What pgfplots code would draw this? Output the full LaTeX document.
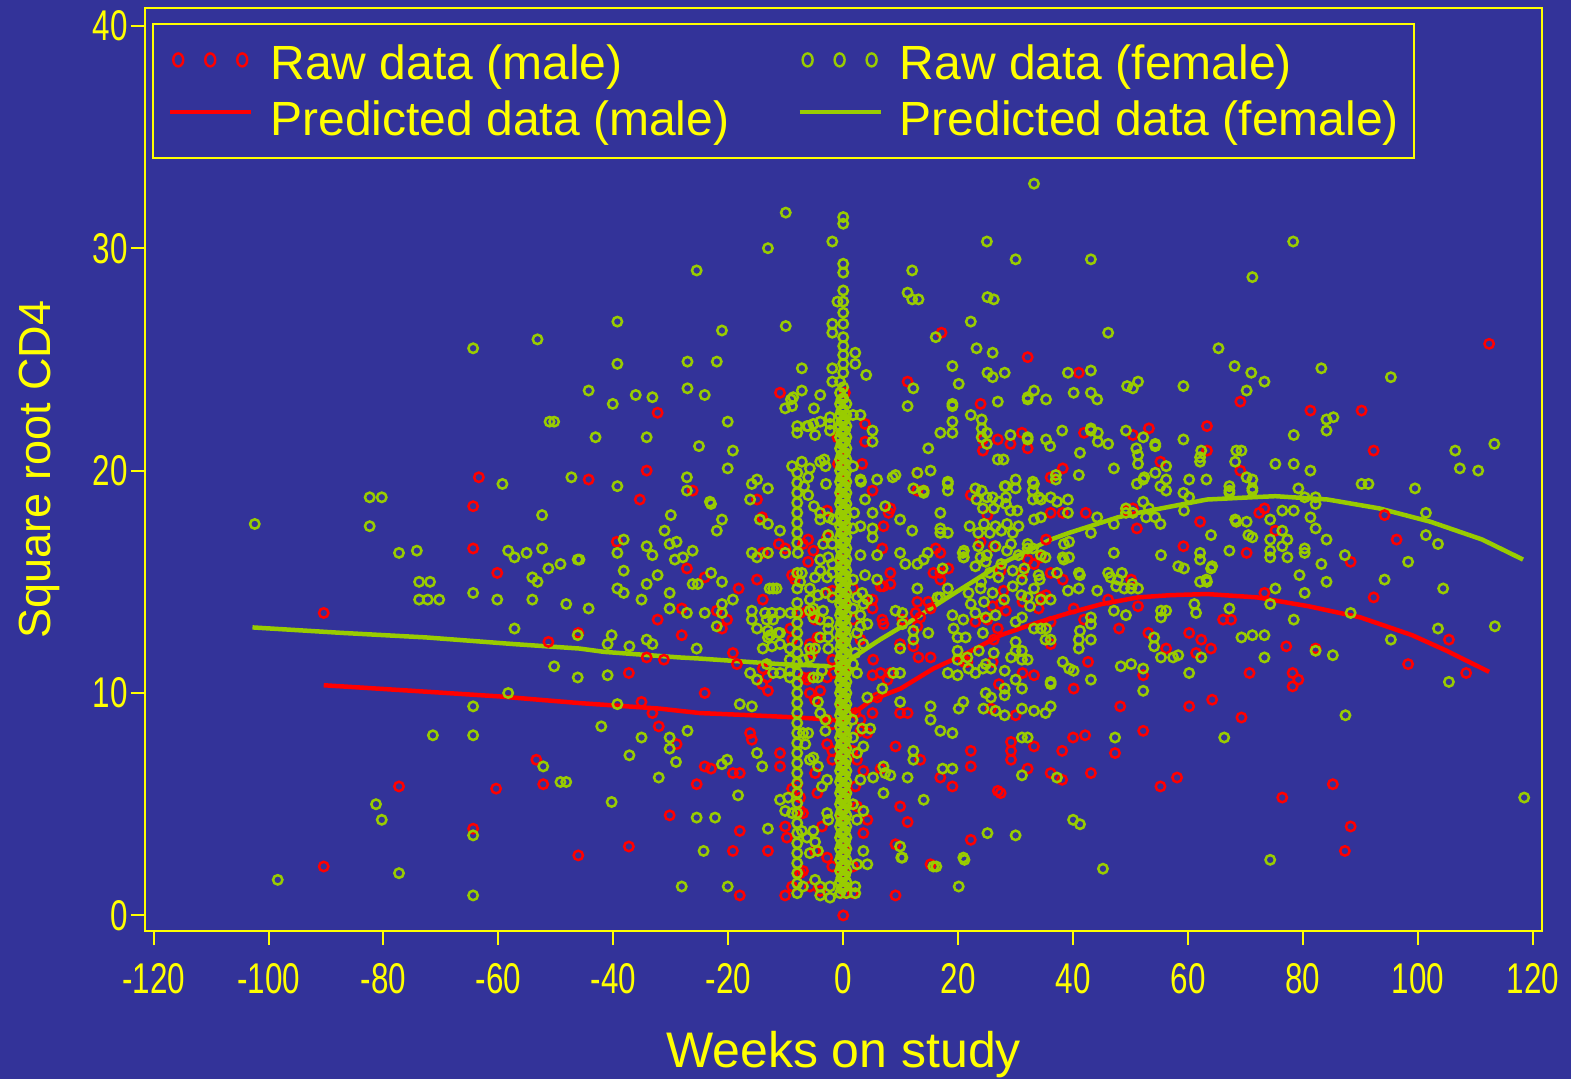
\documentclass[border=0pt]{standalone}
\usepackage{fontspec}
\setmainfont{Liberation Sans}
\newfontfamily\narrowfont{Liberation Sans}[FakeStretch=0.73]
\usepackage{pgfplots}
\pgfplotsset{compat=1.18}
\usetikzlibrary{backgrounds}
\definecolor{bgblue}{RGB}{51,51,153}
\definecolor{ylw}{RGB}{255,255,0}
\definecolor{grn}{RGB}{153,204,0}
\definecolor{rd}{RGB}{255,0,0}
\pgfplotsset{raw/.style={only marks, mark=o, mark size=4.7pt, mark options={line width=2.5pt}}}

\begin{document}
\begin{tikzpicture}
\begin{axis}[
  name=ax,
  scale only axis,
  width=1397pt, height=923pt,
  xmin=-121.5, xmax=121.6, ymin=-0.7, ymax=40.8,
  axis line style={ylw, line width=2pt},
  xtick={-120,-100,...,120},
  ytick={0,10,20,30,40},
  tick pos=left,
  tick align=outside,
  major tick length=14pt,
  tick style={ylw, line width=2pt},
  ticklabel style={font=\narrowfont\fontsize{43}{43}\selectfont, text=ylw},
  xticklabel style={yshift=-15pt},
  /pgf/number format/assume math mode=true,
  xlabel={Weeks on study},
  ylabel={Square root CD4},
  xlabel style={font=\fontsize{50}{50}\selectfont, text=ylw, at={(axis description cs:0.5,-0.1484)}, anchor=base},
  ylabel style={font=\fontsize{45}{45}\selectfont, text=ylw, at={(axis description cs:-0.068,0.5)}, anchor=base},
  legend columns=2,
  legend cell align=left,
  legend style={at={(axis description cs:0.005,0.984)}, anchor=north west,
    draw=ylw, line width=2pt, fill=none, text=ylw,
    font=\fontsize{48}{55}\selectfont,
    inner xsep=15pt, inner ysep=21pt,
    nodes={inner sep=0pt},
    row sep=20pt,
    /tikz/every odd column/.append style={column sep=17pt},
    /tikz/every even column/.append style={column sep=68pt}},
]

% raw data, male
\addplot[raw, rd, legend image code/.code={\foreach \xx in {8,40,72}{\draw[rd, line width=2.4pt] (\xx pt,3pt) ellipse [x radius=5pt, y radius=6.5pt];}}] coordinates {
(-90.4,13.6) (-90.4,2.2) (-77.3,5.8) (-64.4,18.4) (-64.4,16.5) (-63.4,19.7) (-60.2,15.4) (-60.4,5.7) (-64.4,3.9)
(-53.4,7.0) (-52.2,5.9) (-51.3,12.3) (-46.1,12.7) (-46.1,2.7) (-44.3,19.6)
(-39.4,16.8) (-35.4,18.7) (-37.3,3.1) (-37.3,10.9) (-35.1,9.6) (-32.3,22.6) (-32.3,13.3) (-34.2,20.0) (-33.2,9.1)
(-32.1,8.5) (-34.2,11.6) (-31.2,11.5) (-29.0,7.7) (-28.1,12.6) (-26.2,19.1) (-25.5,5.9) (-27.2,15.6) (-24.1,15.2)
(-28.1,13.8) (-30.2,4.5) (-23.0,6.6)
(-22.0,13.7) (-20.2,13.3) (-21.1,12.9) (-19.2,11.8) (-18.2,14.7) (-15.0,15.1) (-14.0,16.3) (-13.1,16.3) (-11.2,16.7)
(-10.1,16.5) (-15.0,18.7) (-14.1,17.9) (-11.0,23.5)
(-8.9,15.3) (-8.4,15.1) (-7.0,16.7) (-6.1,16.9) (-5.2,16.4) (-6.1,15.9) (-2.8,18.2) (-2.8,17.0) (-1.0,21.5) (-0.9,20.3)
(-8.9,12.4) (-9.2,12.9) (-6.1,13.7) (-5.2,13.6) (-4.0,13.3) (-7.5,13.6) (-2.8,14.5) (-1.9,14.6) (-4.9,13.3) (-4.5,12.5)
(-5.8,12.2) (-5.4,11.8) (-5.8,10.7) (-2.8,10.7) (-7.0,10.7) (-6.3,10.6) (-1.7,10.9) (-1.9,11.5) (-5.8,10.0) (-4.9,9.7)
(-4.0,10.1) (-2.8,8.8) (-1.9,8.6) (-2.8,7.7) (-1.9,7.4) (-1.9,7.0) (-4.5,5.5) (-4.9,6.4) (-3.7,4.0) (-4.9,2.9)
(-8.9,5.7) (-8.0,5.9) (-7.5,5.3) (-7.5,4.7) (-7.0,4.6) (-7.5,1.9) (-7.0,2.0) (-5.8,1.3) (-4.0,1.1) (-2.8,2.6) (-1.9,2.2)
(-10.1,0.9) (-8.9,1.3) (-10.1,4.0) (-9.8,3.5) (-13.1,2.9) (-18.0,3.8) (-19.2,2.9) (-18.0,0.9) (-11.0,7.3) (-11.0,6.7)
(-19.2,6.4) (-18.0,6.4) (-24.1,6.7) (-16.2,8.2) (-15.9,7.9) (-14.1,10.4) (-13.1,10.1) (-14.0,11.1) (-13.3,10.7)
(-18.5,11.3) (-24.1,10.0) (-14.0,14.2)
(0,0.0) (0.3,1.0) (-0.3,2.0) (0.3,3.0) (-0.3,4.5) (0.3,5.5) (-0.3,7.0) (0.3,8.0) (-0.3,9.5) (0.3,11.0) (-0.3,12.5)
(0.3,14.0) (-0.3,16.0) (0.3,17.5) (-0.3,18.8) (0.3,19.6) (-0.3,20.6) (0.3,23.5)
(1.7,2.2) (1.7,1.0) (4.2,4.3) (3.5,3.7) (2.4,4.9) (2.1,5.8) (1.6,7.4) (2.4,7.0) (3.5,6.5) (3.0,8.3) (4.2,8.2) (2.1,9.1)
(3.0,8.8) (5.9,9.8) (5.1,9.1) (9.1,7.6) (9.9,9.1) (11.2,9.1) (13.4,7.0) (6.5,6.6) (11.2,4.2) (9.9,4.9) (9.1,3.2)
(15.2,2.3) (9.1,0.9) (22.2,3.4) (16.9,6.2) (19.0,5.8) (26.9,5.6) (22.2,7.4) (22.2,6.7) (25.7,9.3)
(3.0,12.4) (5.2,11.5) (6.5,10.9) (7.7,10.6) (5.1,10.8) (10.3,13.3) (12.2,12.1) (9.9,12.2) (13.4,13.4) (15.2,13.8)
(16.9,15.4) (16.9,15.1) (18.3,15.6) (6.5,14.8) (5.1,14.2) (5.1,13.8) (8.2,15.4) (8.2,14.9)
(1.7,14.7) (1.7,13.3) (3.8,22.1) (3.8,21.3) (3.3,20.3) (6.8,16.5) (7.0,13.1) (8.2,18.3) (7.9,18.1) (7.0,17.5)
(12.9,19.9) (12.9,19.1) (14.0,19.1) (16.1,16.5) (16.9,16.3) (15.7,15.4) (12.9,14.1) (14.8,14.1) (12.6,13.6) (12.9,13.0)
(7.0,14.8) (6.8,13.3) (22.2,18.9) (23.9,23.0) (24.3,21.4) (24.3,20.9) (23.9,16.8) (26.9,21.4) (23.0,13.2) (25.1,13.3)
(26.9,12.9) (26.2,12.4) (13.1,11.6) (15.2,11.6) (21.6,11.4) (8.2,10.9) (5.1,19.1) (11.2,24.0) (17.1,26.2) (25.1,18.0)
(26.2,16.6) (27.4,15.5) (27.9,14.6) (27.4,14.0) (26.0,13.9) (28.3,13.7) (21.0,11.4) (26.0,11.4) (27.1,10.4)
(32.1,25.1) (41.0,24.4) (69.1,23.1) (41.9,21.7) (50.4,21.6) (53.2,21.9) (63.3,22.0) (63.3,20.9) (69.1,20.0)
(29.1,21.2) (31.1,21.7) (32.1,21.0) (38.2,20.1) (36.1,19.7) (36.1,18.1) (38.2,18.1) (42.2,18.1) (49.2,18.2) (50.4,18.3)
(51.1,17.4) (62.1,17.7) (68.4,17.7) (35.3,16.9) (32.1,16.0) (33.2,15.8) (34.4,16.1) (31.2,15.4) (36.1,15.4) (38.2,15.1)
(31.2,14.1) (34.4,14.3) (35.3,14.4) (34.0,13.8) (40.1,13.8) (46.1,14.2) (50.1,15.1) (59.2,16.6) (70.2,16.3) (51.3,13.9)
(41.9,13.3) (48.0,12.9) (53.1,12.7) (56.2,12.0) (60.2,12.7) (61.4,11.8) (62.3,12.4) (64.0,12.0) (66.1,13.3) (67.5,13.3)
(70.7,10.9) (42.6,11.4) (40.1,10.2) (52.2,10.8) (31.2,10.9) (33.2,10.8) (36.1,12.2) (36.1,13.2)
(112.4,25.7) (81.3,22.7) (90.2,22.7) (92.3,20.9) (55.2,20.4) (72.4,18.1) (73.3,18.3) (75.2,17.3) (94.2,18.0) (96.3,16.9)
(88.3,15.9) (77.1,12.1) (73.3,14.5) (92.3,14.3) (105.4,12.4) (98.3,11.3) (108.4,10.9) (82.2,12.0) (78.2,10.9) (79.2,10.6)
(78.2,10.3) (64.2,9.7) (60.2,9.4) (69.3,8.9) (48.2,9.4) (52.2,8.3) (30.0,9.0) (40.0,8.0) (42.1,8.1) (33.2,7.6) (29.2,7.8)
(29.2,7.4) (29.2,7.0) (38.1,7.4) (47.3,7.3) (32.1,6.6) (36.1,6.4) (38.1,6.1) (43.1,6.4) (58.1,6.2) (55.2,5.8) (85.2,5.9)
(76.4,5.3) (88.3,4.0) (87.3,2.9) (27.4,5.5)
};
\addlegendentry{Raw data (male)}

% raw data, female
\addplot[raw, grn, legend image code/.code={\foreach \xx in {8,40,72}{\draw[grn, line width=2.4pt] (\xx pt,3pt) ellipse [x radius=5pt, y radius=6.5pt];}}] coordinates {
(-102.4,17.6) (-98.4,1.6) (-82.4,18.8) (-80.3,18.8) (-82.4,17.5) (-81.3,5.0) (-80.3,4.3) (-77.3,16.3) (-77.3,1.9)
(-74.2,16.4) (-73.8,15.0) (-71.9,15.0) (-73.8,14.2) (-72.3,14.2) (-70.3,14.2) (-71.4,8.1) (-64.4,25.5) (-64.4,14.5)
(-64.4,9.4) (-64.4,8.1) (-64.4,3.6) (-64.4,0.9) (-59.3,19.4) (-58.3,16.4) (-57.2,16.1) (-55.1,16.3) (-52.4,16.5)
(-60.2,14.2) (-58.3,10.0) (-57.2,12.9) (-54.1,15.2) (-53.2,15.0) (-54.1,14.2) (-53.2,25.9) (-52.4,18.0) (-51.1,22.2)
(-50.3,22.2) (-50.3,11.2) (-52.2,6.7) (-49.2,6.0) (-48.2,6.0) (-49.2,15.8) (-46.2,16.0) (-51.3,15.6) (-47.3,19.7)
(-46.2,10.7) (-46.2,12.6) (-48.2,14.0) (-44.3,13.8) (-44.3,23.6) (-43.1,21.5) (-41.0,10.8) (-42.1,8.5) (-45.9,16.0)
(-39.3,26.7) (-39.3,24.8) (-40.1,23.0) (-39.3,19.3) (-39.3,16.3) (-38.2,16.9) (-38.2,15.5) (-39.3,14.7) (-38.2,14.5)
(-40.3,12.6) (-41.0,12.2) (-37.2,12.1) (-34.2,12.4) (-33.2,12.2) (-39.3,9.5) (-40.3,5.1) (-37.2,7.2) (-35.1,8.0)
(-36.1,23.4) (-33.2,23.3) (-34.2,21.5) (-34.2,16.6) (-33.2,16.2) (-32.3,15.3) (-34.2,14.9) (-35.1,14.2) (-30.2,14.5)
(-30.2,13.8) (-27.2,13.6) (-30.0,18.0) (-31.1,17.3) (-29.0,16.8) (-30.2,16.7) (-29.3,16.0) (-27.9,16.1) (-26.2,16.4)
(-26.2,14.9) (-25.3,14.9) (-23.0,15.4) (-21.1,15.0) (-27.2,19.7) (-27.2,19.1) (-27.1,24.9) (-27.1,23.7) (-25.5,29.0)
(-24.1,23.4) (-25.1,21.1) (-23.0,18.5) (-22.0,24.9) (-21.1,26.3) (-20.1,22.2) (-19.2,20.9) (-20.1,20.1) (-23.2,18.6)
(-21.1,17.8) (-22.0,17.3) (-30.2,8.0) (-30.2,7.5) (-32.1,6.2) (-29.1,6.9) (-27.1,8.3) (-25.5,12.0) (-25.5,4.4)
(-28.1,1.3) (-24.1,13.6) (-21.1,14.0) (-21.1,13.6) (-19.2,14.2) (-22.0,13.0) (-24.3,2.9) (-18.0,9.5)
(-15.9,19.4) (-15.0,19.6) (-13.1,19.2) (-16.2,18.7) (-14.5,17.8) (-11.0,17.3) (-13.1,17.6) (-15.9,16.3) (-15.0,16.1)
(-13.1,16.3) (-10.1,16.3) (-7.9,16.3) (-12.8,14.7) (-12.2,14.7) (-11.6,14.7) (-8.0,14.7) (-13.6,13.6) (-13.3,13.3)
(-12.4,13.6) (-12.2,13.3) (-11.0,13.6) (-11.3,12.7) (-9.2,13.6) (-8.0,13.6) (-12.7,12.6) (-11.0,12.2) (-13.3,11.3)
(-12.2,10.9) (-5.8,12.0) (-4.9,12.0) (-5.8,11.6) (-7.5,15.0) (-7.2,15.4) (-6.1,19.7) (-5.8,20.1) (-4.0,20.4) (-3.1,20.2)
(-7.2,20.4) (-8.9,20.2) (-4.9,21.6) (-5.2,22.1) (-6.1,22.0) (-4.0,22.2) (-2.3,22.4) (-2.3,22.1) (-2.3,21.8) (-8.9,22.9)
(-10.1,22.8) (-8.7,23.3) (-7.2,23.6) (-4.0,23.4) (-4.0,18.1) (-4.0,17.8) (-2.6,17.9) (-1.7,17.8) (-3.5,16.7) (-4.0,16.0)
(-4.0,15.5) (-5.8,14.7) (-5.8,14.2) (-5.8,13.7) (-4.4,14.4) (-2.6,13.2) (-2.6,12.9) (-2.6,12.5) (-2.6,12.0)
(-15.9,13.7) (-15.9,13.3) (-15.0,12.9) (-13.1,12.8) (-11.0,12.7) (-13.1,12.5) (-12.4,12.1) (-14.0,12.0) (-11.0,10.9)
(-16.2,10.9) (-15.0,10.6) (-15.9,9.4) (-15.0,7.3) (-14.1,6.7) (-21.1,6.8) (-20.2,7.0) (-18.3,5.4) (-22.3,4.4) (-20.1,1.3)
(-13.1,3.9) (-11.0,5.2) (-9.6,5.3) (-10.1,4.7) (-8.9,4.6) (-7.2,3.8) (-6.3,3.5) (-5.2,3.8) (-4.9,3.3) (-4.4,2.9) (-5.8,2.8)
(-4.9,1.6) (-4.0,1.3) (-2.3,1.3) (-2.3,0.8) (-4.4,6.7) (-3.7,5.8) (-2.8,6.1) (-2.8,4.6) (-2.6,4.3) (-7.0,8.2) (-6.1,8.2)
(-6.6,7.7) (-5.8,7.0) (-5.2,7.1) (-4.4,9.6) (-4.0,9.1) (-3.1,8.8) (-3.1,8.3) (-5.2,10.7) (-4.4,10.7) (-3.7,11.0) (-7.0,11.5)
(-4.0,12.5) (-5.2,13.8) (-4.0,13.3) (-5.2,13.4) (-3.5,13.7) (-3.1,14.5) (-1.9,14.3) (-4.9,15.2) (-2.8,15.2) (-1.9,15.4)
(-2.6,17.1) (-1.9,16.7) (-2.6,16.1) (-1.9,15.8) (-7.0,1.3) (-4.0,0.9)
(-10.0,31.6) (-13.1,30.0) (-1.9,30.3) (-1.0,27.6) (-10.0,26.5) (-1.9,26.6) (-1.9,26.2) (-7.2,24.6) (-1.9,24.6) (-9.1,23.2)
(-5.1,22.8) (-1.9,24.0) (-8.0,22.0) (-8.0,21.7) (-6.3,22.0) (-6.8,19.3) (-6.1,18.9) (-5.1,18.4) (-3.3,20.5) (-3.0,19.4)
(-8.0,1.0) (-8.0,1.45) (-8.0,1.9) (-8.0,2.35) (-8.0,2.8) (-8.0,3.25) (-8.0,3.7) (-8.0,4.15) (-8.0,4.6) (-8.0,5.05)
(-8.0,5.5) (-8.0,5.95) (-8.0,6.4) (-8.0,6.85) (-8.0,7.3) (-8.0,7.75) (-8.0,8.2) (-8.0,8.65) (-8.0,9.1) (-8.0,9.55)
(-8.0,10.0) (-8.0,10.45) (-8.0,10.9) (-8.0,11.35) (-8.0,11.8) (-8.0,12.25) (-8.0,12.7) (-8.0,13.15) (-8.0,14.05)
(-8.0,15.4) (-8.0,16.75) (-8.0,17.2) (-8.0,17.65) (-8.0,18.1) (-8.0,18.55) (-8.0,19.0) (-8.0,19.45) (-8.0,19.9)
(-9.3,10.7) (-9.3,11.0) (-9.3,11.5) (-9.3,12.0)
(-0.55,1.0) (-0.55,1.5) (-0.55,2.0) (-0.55,2.5) (-0.55,3.0) (-0.55,3.5) (-0.55,4.0) (-0.55,4.5) (-0.55,5.0) (-0.55,5.5)
(-0.55,6.0) (-0.55,6.5) (-0.55,7.0) (-0.55,7.5) (-0.55,8.0) (-0.55,8.5) (-0.55,9.0) (-0.55,9.5) (-0.55,10.0) (-0.55,10.5)
(-0.55,11.0) (-0.55,11.5) (-0.55,12.0) (-0.55,12.5) (-0.55,13.0) (-0.55,13.5) (-0.55,14.0) (-0.55,14.5) (-0.55,15.0)
(-0.55,15.5) (-0.55,16.0) (-0.55,16.5) (-0.55,17.0) (-0.55,17.5) (-0.55,18.0) (-0.55,18.5) (-0.55,19.0) (-0.55,19.5)
(-0.55,20.0) (-0.55,20.5) (-0.55,21.0) (-0.55,21.5) (-0.55,22.0) (-0.55,22.5) (-0.55,23.0) (-0.55,23.5) (-0.55,24.0)
(0,1.25) (0,1.75) (0,2.25) (0,2.75) (0,3.25) (0,3.75) (0,4.25) (0,4.75) (0,5.25) (0,5.75) (0,6.25) (0,6.75) (0,7.25)
(0,7.75) (0,8.25) (0,8.75) (0,9.25) (0,9.75) (0,10.25) (0,10.75) (0,11.25) (0,11.75) (0,12.25) (0,12.75) (0,13.25)
(0,13.75) (0,14.25) (0,14.75) (0,15.25) (0,15.75) (0,16.25) (0,16.75) (0,17.25) (0,17.75) (0,18.25) (0,18.75) (0,19.25)
(0,19.75) (0,20.25) (0,20.75) (0,21.25) (0,21.75) (0,22.25) (0,22.75) (0,23.25) (0,23.75)
(0,24.4) (0,24.8) (0,25.2) (0,25.6) (0,26.0) (0,26.6) (0,27.1) (0,27.6) (0,28.1) (0,28.9) (0,29.3) (0,31.1) (0,31.4)
(0.55,1.0) (0.55,1.5) (0.55,2.0) (0.55,2.5) (0.55,3.0) (0.55,3.5) (0.55,4.0) (0.55,4.5) (0.55,5.0) (0.55,5.5) (0.55,6.0)
(0.55,6.5) (0.55,7.0) (0.55,7.5) (0.55,8.0) (0.55,8.5) (0.55,9.0) (0.55,9.5) (0.55,10.0) (0.55,10.5) (0.55,11.0)
(0.55,11.5) (0.55,12.0) (0.55,12.5) (0.55,13.0) (0.55,13.5) (0.55,14.0) (0.55,14.5) (0.55,15.0) (0.55,15.5) (0.55,16.0)
(0.55,16.5) (0.55,17.0) (0.55,17.5) (0.55,18.0) (0.55,18.5) (0.55,19.0) (0.55,19.5) (0.55,20.0) (0.55,20.5) (0.55,21.0)
(0.55,21.5) (0.55,22.0) (0.55,22.5) (0.55,23.0)
(-0.3,1.2) (-0.3,1.7) (-0.3,2.2) (-0.3,2.7) (-0.3,3.2) (-0.3,3.7) (-0.3,4.2) (-0.3,4.7) (-0.3,5.2) (-0.3,5.7) (-0.3,6.2)
(-0.3,6.7) (-0.3,7.2) (-0.3,7.7) (-0.3,8.2) (-0.3,8.7) (-0.3,9.2) (-0.3,9.7) (-0.3,10.2) (-0.3,10.7) (-0.3,11.2)
(-0.3,11.7) (-0.3,12.2) (-0.3,12.7) (-0.3,13.2) (-0.3,13.7) (-0.3,14.2) (-0.3,14.7) (-0.3,15.2) (-0.3,15.7) (-0.3,16.2)
(-0.3,16.7) (-0.3,17.2) (-0.3,17.7) (-0.3,18.2) (-0.3,18.7) (-0.3,19.2) (-0.3,19.7) (-0.3,20.2) (-0.3,20.7) (-0.3,21.2)
(-0.3,21.7) (-0.3,22.2) (-0.3,22.7) (-0.3,23.2)
(0.3,1.3) (0.3,1.8) (0.3,2.3) (0.3,2.8) (0.3,3.3) (0.3,3.8) (0.3,4.3) (0.3,4.8) (0.3,5.3) (0.3,5.8) (0.3,6.3) (0.3,6.8)
(0.3,7.3) (0.3,7.8) (0.3,8.3) (0.3,8.8) (0.3,9.3) (0.3,9.8) (0.3,10.3) (0.3,10.8) (0.3,11.3) (0.3,11.8) (0.3,12.3)
(0.3,12.8) (0.3,13.3) (0.3,13.8) (0.3,14.3) (0.3,14.8) (0.3,15.3) (0.3,15.8) (0.3,16.3) (0.3,16.8) (0.3,17.3) (0.3,17.8)
(0.3,18.3) (0.3,18.8) (0.3,19.3) (0.3,19.8) (0.3,20.3) (0.3,20.8) (0.3,21.3) (0.3,21.8) (0.3,22.3)
(1.7,22.5) (3.0,22.5) (5.1,21.8) (5.1,21.3) (1.7,20.2) (3.0,19.6) (5.9,19.6) (3.8,18.7) (1.9,18.1) (3.0,17.5) (1.7,17.4)
(5.1,18.1) (5.1,17.4) (5.1,17.0) (3.0,16.2) (5.9,16.2) (3.8,15.3) (5.9,15.1) (1.7,15.1) (3.3,14.5) (4.2,14.2) (2.4,14.3)
(1.7,13.8) (3.5,14.0) (3.0,13.5) (3.0,13.0) (4.2,13.1) (2.4,12.7) (3.5,12.2) (2.1,11.8) (1.7,11.3) (2.4,10.9)
(12.2,23.7) (11.2,22.9) (16.9,21.7) (19.0,22.9) (19.0,22.2) (19.0,21.7) (22.2,22.5) (14.8,21.0) (15.2,20.0) (12.9,19.9)
(9.1,19.8) (8.6,19.7) (7.3,18.4) (9.9,17.8) (12.0,17.3) (16.9,18.1) (16.9,17.4) (16.9,17.2) (18.2,17.2) (12.2,19.2)
(14.0,19.1) (18.2,19.4) (20.8,16.3) (20.9,16.1) (14.7,16.3) (9.9,16.3) (10.8,15.8) (12.9,15.8) (14.0,16.0) (17.3,15.6)
(23.0,15.7) (23.9,16.1) (24.8,15.9) (12.9,14.7) (16.4,14.3) (18.2,14.7) (10.3,13.6) (9.1,13.7) (10.3,13.1) (12.2,12.8)
(12.2,12.4) (14.8,12.7) (19.0,13.5) (19.2,12.9) (20.9,13.3) (16.9,14.3) (19.9,12.5) (21.3,12.5) (21.8,14.5) (23.9,14.7)
(22.2,14.0) (23.0,13.6) (24.8,13.4) (24.3,12.7) (19.9,11.9) (19.9,11.5) (21.6,11.6) (23.6,11.9) (24.8,11.3) (18.2,10.9)
(19.9,10.8) (23.0,10.9) (8.7,10.9) (9.9,10.9) (9.9,12.0)
(12.0,29.0) (11.2,28.0) (12.0,27.7) (13.1,27.7) (25.0,30.3) (25.1,27.8) (26.2,27.7) (22.2,26.7) (16.1,26.0) (2.1,25.3)
(2.1,24.8) (4.0,24.3) (19.0,24.7) (19.0,23.0) (20.1,23.9) (23.2,25.5) (26.0,25.3) (25.1,24.4) (26.0,24.2) (26.9,23.1)
(3.1,19.5) (14.0,19.0) (18.2,19.5) (18.2,19.1)
(23.0,19.2) (24.1,19.1) (23.2,18.7) (25.0,18.8) (26.0,18.8) (24.3,18.3) (26.2,18.3) (27.1,18.6) (28.3,19.3) (30.0,19.6)
(30.0,19.2) (28.3,18.8) (28.3,18.5) (29.1,18.2) (30.3,18.2) (33.0,19.5) (33.0,19.1) (33.0,18.7) (34.0,18.8) (36.1,18.8)
(37.2,18.6) (39.1,18.7) (39.1,18.1)
(22.0,17.5) (23.5,17.2) (24.5,17.6) (25.5,17.2) (26.5,17.5) (27.5,17.3) (28.5,17.6) (29.5,17.2) (30.5,17.5) (33.2,17.8)
(34.4,17.9)
(28.1,24.4) (32.1,23.3) (33.2,23.6) (35.3,23.2) (39.1,24.4) (43.1,24.5) (40.1,23.5) (43.1,23.5) (44.2,23.2) (49.4,23.8)
(50.4,23.7) (51.3,24.0) (59.2,23.8) (68.1,24.7) (70.2,23.6) (71.0,24.4) (24.1,22.3) (24.1,21.9) (24.1,21.5) (25.0,21.7)
(25.0,21.2) (29.1,21.6) (32.1,21.5) (35.3,21.4) (36.0,21.1) (26.9,20.5) (27.9,20.5) (43.1,21.8) (44.3,21.7) (44.3,21.3)
(46.1,21.2) (49.2,21.8) (51.0,21.0) (52.2,21.5) (54.3,21.1) (51.3,20.7) (51.3,20.3) (59.2,21.4) (62.1,20.6) (62.1,20.4)
(68.4,20.9) (69.3,20.9) (70.2,19.7) (67.2,19.3) (67.2,19.1) (37.0,19.8) (37.0,19.6) (41.0,19.8) (47.1,20.1) (52.4,19.7)
(54.3,19.9) (55.2,19.3) (56.2,19.6) (56.2,19.1) (60.2,19.6) (63.2,19.6) (59.2,19.0) (60.2,18.8)
(21.0,16.4) (21.0,16.1) (38.4,16.7) (39.3,16.8) (38.4,16.0) (39.3,16.1) (37.2,15.4) (41.0,15.4) (41.0,14.7) (39.1,14.6)
(36.1,14.2) (34.4,14.2) (44.2,14.6) (46.5,15.2) (47.5,14.8) (48.5,15.4) (47.1,16.3) (44.2,17.9) (43.1,17.2) (47.1,17.6)
(49.2,18.3) (49.2,18.1) (50.4,18.1) (52.2,18.6) (53.2,18.3) (55.2,17.6) (54.3,17.9) (52.7,17.9) (55.3,16.2) (58.3,15.7)
(59.3,15.6) (62.1,16.3) (62.1,16.0) (62.1,15.0) (63.2,15.1) (64.0,17.1) (64.0,15.6) (67.2,16.4) (68.4,17.7) (70.2,17.7)
(70.5,17.1) (67.2,13.8) (69.3,12.5) (61.1,14.0) (61.4,13.6) (55.3,13.7) (55.3,13.4) (56.2,13.7) (54.1,12.5) (54.1,12.1)
(55.3,11.6) (57.4,11.6) (58.3,11.7) (60.2,10.9) (50.1,11.3) (52.2,11.1) (48.3,11.2) (52.2,10.1) (43.1,10.6) (41.0,12.4)
(41.0,12.0) (43.1,12.4) (43.1,13.4) (43.1,13.1) (38.2,11.4) (39.3,11.1) (40.1,11.0) (36.1,10.5) (36.1,12.4) (34.4,12.9)
(35.3,12.9) (47.8,15.1) (48.9,14.7) (50.1,14.7) (51.3,14.7) (47.1,13.7) (49.2,13.5)
(23.5,16.6) (25.0,16.2) (26.5,16.6) (27.5,15.8) (28.5,16.4) (29.5,15.5) (30.5,16.2) (31.5,15.6) (33.0,16.5) (34.0,15.3)
(25.5,15.4) (27.0,15.2) (24.0,15.0) (26.0,14.5) (28.0,14.2) (29.5,14.8) (31.0,14.4) (32.5,13.9) (24.5,14.1) (26.5,13.5)
(21.8,11.1) (24.3,11.1) (25.7,11.1) (26.2,11.8) (24.8,10.0) (25.7,9.8) (24.4,9.3) (26.5,9.2) (20.1,9.3) (20.9,9.6)
(16.9,8.3) (19.0,8.2) (19.0,6.6) (17.3,6.6) (15.2,9.4) (15.2,8.8) (9.9,9.6) (6.8,10.2) (4.7,8.4) (1.6,8.8) (3.3,8.4)
(4.2,9.8) (1.7,8.0) (3.5,7.6) (2.4,7.3) (3.0,6.1) (5.2,6.2) (1.7,5.0) (3.5,4.7) (2.4,4.3) (3.5,2.9) (2.4,2.3) (2.1,1.3)
(2.1,1.0) (4.2,2.3) (7.0,6.7) (7.3,6.4) (8.2,6.3) (9.9,3.1) (10.3,2.6) (7.0,5.5) (11.2,6.2) (12.2,7.4) (12.2,7.0)
(14.0,5.2) (15.7,2.2) (20.1,1.3) (20.9,2.6) (25.1,3.7) (10.1,2.6) (16.2,2.2) (21.1,2.5)
(34.4,18.7) (51.1,19.4) (52.2,19.6) (67.2,19.0) (71.2,19.2) (71.2,19.6) (79.2,19.2) (80.3,18.8) (82.2,18.8) (82.2,18.5)
(90.2,19.4) (91.4,19.4) (99.5,19.2) (101.4,18.1) (101.4,17.1) (103.5,16.7) (98.3,15.9) (94.2,15.1) (104.4,14.7)
(103.5,12.9) (113.4,13.0) (95.3,12.4) (105.4,10.5) (118.5,5.3) (87.4,9.0) (66.3,8.0) (74.3,2.5) (45.2,2.1) (40.0,4.3)
(41.2,4.1) (30.0,3.6) (31.1,6.3) (37.2,6.2) (31.1,8.0) (32.1,8.0) (47.3,8.0) (33.2,9.2) (35.2,9.1) (36.1,9.4) (31.1,9.3)
(28.1,9.0) (36.1,10.4) (62.3,11.6) (73.3,11.6) (85.2,11.7) (71.2,12.6) (73.3,12.6) (78.4,13.3) (82.2,11.9) (41.2,12.8)
(74.3,14.0) (80.3,14.5) (75.2,14.7) (88.3,13.6) (63.3,15.0) (84.1,15.0) (79.4,15.3) (83.2,15.8) (87.3,16.2) (80.3,16.5)
(80.3,16.3) (74.3,16.4) (74.3,16.1) (76.4,16.6) (77.3,16.1) (74.3,16.9) (76.4,17.3) (77.3,16.9) (74.3,17.8) (81.3,17.9)
(82.2,17.4) (84.1,16.9) (71.2,17.0) (64.2,15.7) (59.3,18.2) (68.2,17.8) (76.4,18.2) (78.4,18.2) (46.1,15.4) (50.3,14.9)
(41.2,15.3) (38.2,16.1) (35.2,16.1) (34.4,16.2) (32.1,16.7) (32.1,16.5) (29.2,16.7) (31.1,15.1) (33.2,14.7) (34.2,15.1)
(32.1,14.3) (33.2,12.9) (31.1,13.4) (30.0,13.2) (30.0,12.3) (30.0,11.9) (31.1,11.9) (29.2,11.6) (31.1,11.5) (32.1,11.5)
(28.1,11.0) (30.0,10.6) (31.1,10.2) (28.1,10.2) (28.1,9.9) (35.2,12.4)
(33.2,32.9) (30.0,29.5) (43.1,29.5) (78.3,30.3) (71.2,28.7) (46.1,26.2) (65.3,25.5) (73.3,24.0) (83.2,24.6) (95.3,24.2)
(32.1,23.2) (84.1,22.3) (85.3,22.4) (84.1,21.8) (78.4,21.6) (106.5,20.9) (113.3,21.2) (107.3,20.1) (110.5,20.0)
(78.4,20.3) (75.2,20.3) (81.3,20.0) (68.2,20.4) (71.2,19.1) (62.3,20.9) (54.3,21.2) (43.1,21.9) (41.2,20.8) (38.1,21.8)
(32.1,21.4) (56.2,20.2) (28.1,19.3) (33.2,19.4)
};
\addlegendentry{Raw data (female)}

% predicted, male
\addplot[rd, line width=4.5pt, line join=round, legend image code/.code={\draw[rd, line width=4.5pt] (0pt,7pt) -- (81pt,7pt);}] coordinates {
(-90.4,10.35) (-75,10.1) (-60,9.85) (-46,9.55) (-32,9.3) (-25,9.1) (-16,9.0) (-8,8.9) (-2,8.8) (0,8.7) (2.4,9.2)
(5,9.7) (10,10.2) (15.7,11.1) (21.6,11.8) (27.4,12.6) (33,13.1) (39.3,13.6) (45,14.0) (51.3,14.3) (57,14.4)
(63.3,14.45) (72,14.3) (81,13.9) (90,13.4) (99,12.6) (105,11.9) (112.4,10.95)
};
\addlegendentry{Predicted data (male)}

% predicted, female
\addplot[grn, line width=4.5pt, line join=round, legend image code/.code={\draw[grn, line width=4.5pt] (0pt,7pt) -- (81pt,7pt);}] coordinates {
(-102.8,12.95) (-87,12.7) (-72.6,12.5) (-57.3,12.2) (-45.9,12.0) (-41.6,11.85) (-28.5,11.6) (-25,11.55) (-11,11.3)
(-1.7,11.2) (0,11.2) (1.7,11.6) (6.4,12.4) (12.2,13.3) (18.2,14.3) (27.4,15.8) (36.1,16.9) (39.3,17.2) (47.8,17.9)
(51.3,18.1) (59.3,18.5) (63.3,18.7) (71,18.8) (75.2,18.85) (84.3,18.7) (93.3,18.3) (102.2,17.7) (111.2,16.9) (118.3,16.0)
};
\addlegendentry{Predicted data (female)}
\end{axis}
\begin{scope}[on background layer]
\fill[bgblue] ([shift={(-145pt,-148pt)}]ax.south west) rectangle ([shift={(1426pt,931pt)}]ax.south west);
\end{scope}
\pgfresetboundingbox
\path[use as bounding box] ([shift={(-145pt,-148pt)}]ax.south west) rectangle ([shift={(1426pt,931pt)}]ax.south west);
\end{tikzpicture}
\end{document}
